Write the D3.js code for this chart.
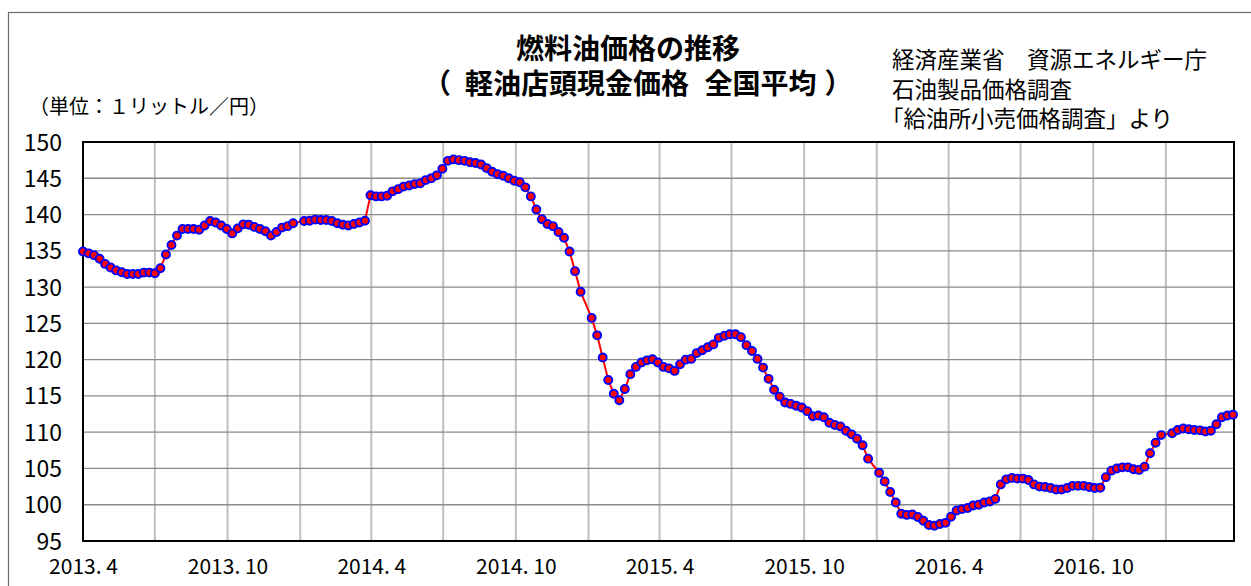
<!DOCTYPE html>
<html><head><meta charset="utf-8">
<script src="https://cdn.jsdelivr.net/npm/d3@7"></script>
<style>
html,body{margin:0;padding:0;background:#fff;}
svg{display:block;font-family:"Noto Sans CJK JP","Noto Sans",sans-serif;}
</style></head>
<body>
<svg id="c" width="1251" height="586"></svg>
<script>
// ---- data (weekly survey, null = week without survey) ----
const firstSurvey = "2013-04-01";
const prices = [
134.9,134.65,134.4,133.9,133.2,132.7,132.3,132.05,131.8,131.8,
131.8,132.0,132.0,131.9,132.6,134.5,135.8,137.1,138.0,138.0,
138.0,137.9,138.5,139.1,138.9,138.5,138.0,137.4,138.1,138.65,
138.6,138.3,138.0,137.7,137.1,137.6,138.2,138.4,138.8,null,
139.1,139.15,139.3,139.25,139.25,139.1,138.8,138.6,138.5,138.7,
138.9,139.15,142.65,142.5,142.5,142.6,143.2,143.5,143.85,144.0,
144.2,144.3,144.75,145.0,145.4,146.3,147.4,147.6,147.5,147.4,
147.2,147.1,146.9,146.4,145.9,145.55,145.35,145.0,144.65,144.45,
143.75,142.5,140.7,139.35,138.7,138.4,137.6,136.8,134.9,132.2,
129.35,null,125.75,123.35,120.3,117.2,115.3,114.4,115.95,118.0,
119.0,119.6,119.9,120.05,119.6,119.0,118.8,118.45,119.35,120.0,
120.1,120.9,121.3,121.7,122.1,123.0,123.3,123.5,123.5,123.1,
122.0,121.2,120.1,118.9,117.35,115.85,114.9,114.1,113.9,113.65,
113.4,112.9,112.2,112.3,112.05,111.3,111.0,110.8,110.2,109.7,
109.1,108.2,106.35,null,104.4,103.2,101.75,100.3,98.75,98.6,
98.65,98.3,97.8,97.2,97.1,97.35,97.5,98.35,99.2,99.4,
99.55,99.9,100.0,100.3,100.45,100.8,102.8,103.5,103.7,103.6,
103.6,103.4,102.8,102.5,102.45,102.3,102.1,102.1,102.3,102.6,
102.6,102.6,102.45,102.3,102.35,103.8,104.7,105.0,105.15,105.15,
104.9,104.8,105.25,107.1,108.55,109.6,null,109.85,110.3,110.5,
110.4,110.3,110.25,110.1,110.2,111.1,112.05,112.3,112.4
];
const yTicks = [95,100,105,110,115,120,125,130,135,140,145,150];
const xLabelDates = ["2013-04-01","2013-10-01","2014-04-01","2014-10-01","2015-04-01","2015-10-01","2016-04-01","2016-10-01"];
const xLabels = ["2013. 4","2013. 10","2014. 4","2014. 10","2015. 4","2015. 10","2016. 4","2016. 10"];
const titleMain = "燃料油価格の推移";
const titleSubParts = ["（","軽油店頭現金価格"," 全国平均","）"];
const sourceLines = ["経済産業省　資源エネルギー庁","石油製品価格調査","「給油所小売価格調査」より"];
const unitLabel = "（単位：１リットル／円）";

// ---- layout ----
const L = 83, R = 1234, T = 142, B = 541;
const svg = d3.select("#c");
const parse = d3.utcParse("%Y-%m-%d");
const start = parse(firstSurvey);
const data = prices.map((v,i)=>({date:d3.utcDay.offset(start,7*i), v})).filter(d=>d.v!==null);

const x = d3.scaleUtc().domain([start, parse("2017-03-27")]).range([L, 1233]);
const y = d3.scaleLinear().domain([95,150]).range([B, T]);

// outer chart border
svg.append("rect").attr("x",8.5).attr("y",12.5).attr("width",1260).attr("height",600)
  .attr("fill","none").attr("stroke","#6e6e6e").attr("stroke-width",1.2);

// vertical gridlines (every 3 months)
const vTicks = d3.utcMonth.every(3).range(parse("2013-07-01"), parse("2017-03-01"));
svg.append("g").selectAll("line").data(vTicks).join("line")
  .attr("x1",d=>x(d)).attr("x2",d=>x(d)).attr("y1",T).attr("y2",B)
  .attr("stroke","#c0c0c0").attr("stroke-width",2);

// horizontal gridlines
svg.append("g").selectAll("line").data(yTicks.filter(t=>t>95 && t<150)).join("line")
  .attr("x1",L).attr("x2",R).attr("y1",d=>y(d)).attr("y2",d=>y(d))
  .attr("stroke","#8a8a8a").attr("stroke-width",1.3);

// plot frame
svg.append("rect").attr("x",L).attr("y",T).attr("width",R-L).attr("height",B-T)
  .attr("fill","none").attr("stroke","#000").attr("stroke-width",2);

// y axis labels
const yAxis = d3.axisLeft(y).tickValues(yTicks).tickSize(0).tickPadding(0);
const gy = svg.append("g").attr("transform",`translate(${62},0)`).call(yAxis);
gy.select(".domain").remove();
gy.selectAll("text").attr("font-size",23).attr("fill","#000")
  .attr("font-family","'Noto Sans CJK JP',sans-serif").attr("dy","0.35em").attr("dx",0);

// x axis labels
const gx = svg.append("g").attr("transform",`translate(0,${B})`)
  .call(d3.axisBottom(x).tickValues(xLabelDates.map(parse)).tickSize(0).tickPadding(0)
    .tickFormat((d,i)=>xLabels[i]));
gx.select(".domain").remove();
gx.selectAll("text").attr("font-size",21).attr("fill","#000").attr("y",33).attr("dy",0)
  .attr("font-family","'Noto Sans CJK JP',sans-serif");

// line
svg.append("path").datum(data)
  .attr("d", d3.line().x(d=>x(d.date)).y(d=>y(d.v)))
  .attr("fill","none").attr("stroke","#ff0000").attr("stroke-width",2);

// markers
svg.append("g").selectAll("circle").data(data).join("circle")
  .attr("cx",d=>x(d.date)).attr("cy",d=>y(d.v)).attr("r",4)
  .attr("fill","#ff0000").attr("stroke","#0000ff").attr("stroke-width",1.9);

// title (two lines in one text element)
const title = svg.append("text").attr("font-size",28).attr("font-weight","bold");
title.append("tspan").attr("x",628).attr("y",58.5).attr("text-anchor","middle").text(titleMain);
const sub = title.append("tspan").attr("x",423).attr("y",94);
const subDx = [0,14,9,8];
titleSubParts.forEach((p,i)=>{
  (i===0 ? sub : title.append("tspan")).attr("dx",subDx[i]).text(p);
});

svg.append("g").selectAll("text").data(sourceLines).join("text")
  .attr("x",(d,i)=> i===2 ? 881 : 892).attr("y",(d,i)=>68+i*29.5)
  .attr("font-size",22.5).text(d=>d);

svg.append("text").attr("x",29).attr("y",114).attr("font-size",20).text(unitLabel);
</script>
</body></html>
